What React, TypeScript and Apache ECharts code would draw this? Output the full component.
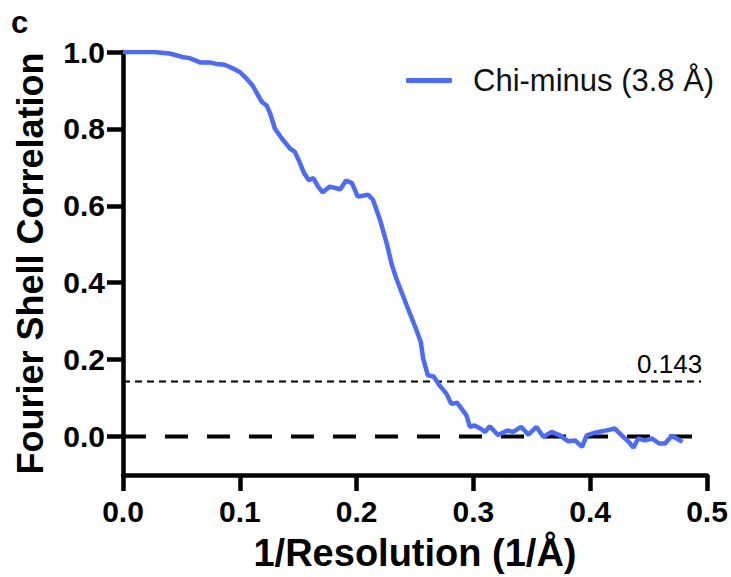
import React, { useEffect, useRef } from "react";
import * as echarts from "echarts";

const resolution = [
  0, 0.026, 0.04, 0.051, 0.057, 0.066, 0.074, 0.08, 0.087, 0.093, 0.1, 0.106, 0.111, 0.114, 0.119, 0.123,
  0.126, 0.13, 0.136, 0.143, 0.147, 0.151, 0.155, 0.159, 0.163, 0.167, 0.171, 0.177, 0.186, 0.191, 0.196,
  0.201, 0.21, 0.214, 0.22, 0.226, 0.23, 0.234, 0.243, 0.251, 0.255, 0.257, 0.261, 0.266, 0.271, 0.277,
  0.281, 0.286, 0.29, 0.294, 0.297, 0.301, 0.306, 0.31, 0.314, 0.321, 0.329, 0.334, 0.341, 0.347, 0.354,
  0.36, 0.367, 0.374, 0.381, 0.387, 0.393, 0.397, 0.404, 0.414, 0.421, 0.427, 0.433, 0.437, 0.441, 0.447,
  0.453, 0.459, 0.464, 0.47, 0.474, 0.479,
];
const fsc = [
  1.0, 1.0, 0.996, 0.987, 0.984, 0.973, 0.973, 0.969, 0.967, 0.959, 0.948, 0.93, 0.913, 0.896, 0.87, 0.861,
  0.84, 0.801, 0.775, 0.749, 0.741, 0.715, 0.685, 0.667, 0.672, 0.65, 0.635, 0.65, 0.643, 0.666, 0.659,
  0.624, 0.629, 0.616, 0.564, 0.5, 0.448, 0.411, 0.34, 0.279, 0.245, 0.202, 0.159, 0.156, 0.133, 0.111,
  0.085, 0.088, 0.072, 0.055, 0.025, 0.029, 0.021, 0.012, 0.027, 0.004, 0.016, 0.012, 0.025, 0.005, 0.025,
  -0.001, 0.012, 0.003, -0.012, -0.01, -0.027, 0.003, 0.01, 0.016, 0.021, 0.003, -0.014, -0.029, -0.005,
  -0.01, -0.005, -0.018, -0.018, 0.002, -0.005, -0.014,
];
const yTicks = [0, 0.2, 0.4, 0.6, 0.8, 1.0];
const xTicks = [0, 0.1, 0.2, 0.3, 0.4, 0.5];
const thresholdValue = 0.143;
const thresholdLabel = "0.143";
const refLineExtent = [0, 0.495];
const seriesName = "Chi-minus (3.8 Å)";
const panelLabel = "c";
const xTitle = "1/Resolution (1/Å)";
const yTitle = "Fourier Shell Correlation";

export default function App() {
  const ref = useRef<HTMLDivElement>(null);
  useEffect(() => {
    const chart = echarts.init(ref.current!, null, { renderer: "svg" });
    const font = "Liberation Sans, Arial, Helvetica, sans-serif";
    const blue = "#4a6bff";
    chart.setOption({
      animation: false,
      textStyle: { fontFamily: font },
      grid: { left: 123, right: 24, top: 52, bottom: 100, containLabel: false },
      legend: {
        data: [seriesName],
        left: 401,
        top: 60,
        icon: "roundRect",
        itemWidth: 46,
        itemHeight: 5,
        textStyle: { fontSize: 31, color: "#111", fontFamily: font, padding: [0, 0, 0, 16] },
        selectedMode: false,
      },
      xAxis: {
        type: "value",
        min: 0,
        max: 0.5,
        interval: 0.1,
        name: xTitle,
        nameLocation: "middle",
        nameGap: 59,
        nameTextStyle: { fontSize: 38, fontWeight: "bold", color: "#000", fontFamily: font },
        axisLine: { onZero: false, lineStyle: { color: "#000", width: 4.5 } },
        axisTick: { length: 16, lineStyle: { color: "#000", width: 4.5 }, customValues: xTicks },
        axisLabel: {
          margin: 21,
          fontSize: 30,
          fontWeight: "bold",
          color: "#000",
          fontFamily: font,
          customValues: xTicks,
          formatter: (v: number) => v.toFixed(1),
        },
        splitLine: { show: false },
      },
      yAxis: {
        type: "value",
        min: -0.1,
        max: 1.0,
        name: yTitle,
        nameLocation: "middle",
        nameRotate: 90,
        nameGap: 75,
        nameTextStyle: { fontSize: 36, fontWeight: "bold", color: "#000", fontFamily: font },
        axisLine: { onZero: false, lineStyle: { color: "#000", width: 4.5 } },
        axisTick: { length: 16, lineStyle: { color: "#000", width: 4.5 }, customValues: yTicks },
        axisLabel: {
          margin: 18,
          fontSize: 30,
          fontWeight: "bold",
          color: "#000",
          fontFamily: font,
          customValues: yTicks,
          formatter: (v: number) => v.toFixed(1),
        },
        splitLine: { show: false },
      },
      series: [
        {
          name: "zero",
          type: "line",
          data: refLineExtent.map((x) => [x, 0]),
          symbol: "none",
          silent: true,
          lineStyle: { color: "#000", width: 4, type: [23, 19] },
          z: 1,
        },
        {
          name: "threshold",
          type: "line",
          data: refLineExtent.map((x) => [x, thresholdValue]),
          symbol: "none",
          silent: true,
          lineStyle: { color: "#000", width: 2, type: [7, 5] },
          z: 1,
        },
        {
          name: seriesName,
          type: "line",
          data: resolution.map((x, i) => [x, fsc[i]]),
          symbol: "none",
          lineStyle: { color: blue, width: 4.5 },
          itemStyle: { color: blue },
          z: 3,
        },
      ],
    });
    const end = chart.convertToPixel({ gridIndex: 0 }, [refLineExtent[1], thresholdValue]) as number[];
    chart.setOption({
      graphic: [
        {
          type: "text",
          left: 11,
          top: 7,
          style: { text: panelLabel, fontSize: 31, fontWeight: "bold", fill: "#000", fontFamily: font },
        },
        {
          type: "text",
          x: end[0] + 1,
          y: end[1] - 5,
          style: {
            text: thresholdLabel,
            fontSize: 26,
            fill: "#000",
            fontFamily: font,
            align: "right",
            verticalAlign: "bottom",
          },
        },
      ],
    });
    return () => chart.dispose();
  }, []);
  return <div ref={ref} style={{ position: "absolute", left: 0, top: 0, width: 731, height: 577 }} />;
}
